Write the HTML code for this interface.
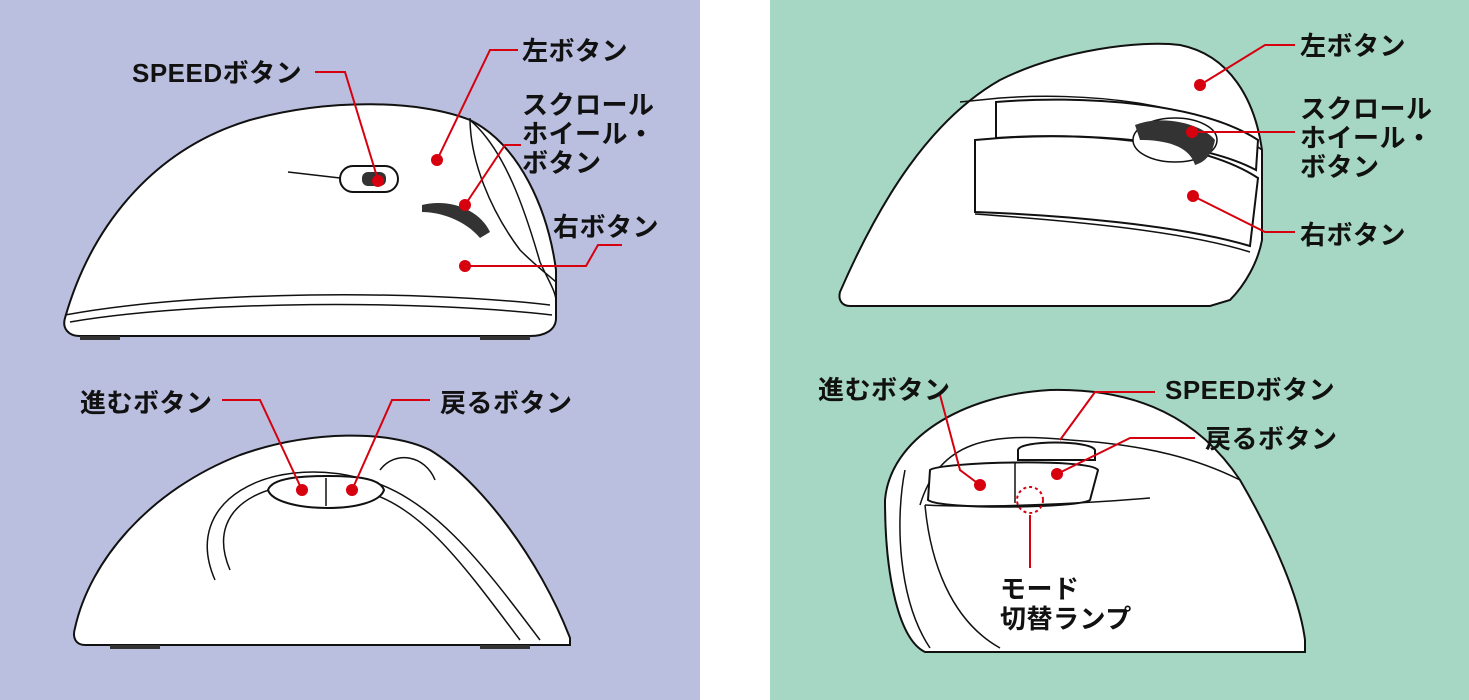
<!DOCTYPE html>
<html><head><meta charset="utf-8"><style>
html,body{margin:0;padding:0;background:#fff}
svg{display:block}
text{font-family:"Liberation Sans","Noto Sans CJK JP",sans-serif;font-size:26px;letter-spacing:0.5px;font-weight:bold;fill:#111}
.m{fill:#fff;stroke:#111;stroke-width:2}
.t{fill:none;stroke:#111;stroke-width:1.5}
.r{fill:none;stroke:#d7000f;stroke-width:2}
.d{fill:#d7000f}
</style></head><body>
<svg width="1469" height="700" viewBox="0 0 1469 700" xmlns="http://www.w3.org/2000/svg">
<rect x="0" y="0" width="700" height="700" fill="#babfdf"/>
<rect x="770" y="0" width="699" height="700" fill="#a6d7c4"/>

<!-- top-left mouse -->
<path class="m" d="M65,318 C90,230 150,150 250,120 C330,98 420,100 470,120 C520,145 548,210 556,270 L556,318 C556,330 545,336 530,336 L80,336 C68,336 62,328 65,318 Z"/>
<path class="t" d="M65,315 C200,290 420,290 550,305"/>
<path class="t" d="M70,322 C200,300 420,300 552,315"/>
<path class="t" d="M470,120 C505,150 525,210 540,262 C548,280 555,290 556,300"/>
<path class="t" d="M288,172 L340,178"/>
<rect class="m" x="340" y="166" width="58" height="26" rx="13"/>
<rect x="362" y="172" width="24" height="14" rx="6" fill="#333"/>
<path d="M422,205 C450,198 480,210 490,232 L480,238 C465,220 440,212 422,212 Z" fill="#333"/>
<path class="t" d="M470,118 C470,160 490,210 520,250 C535,265 548,275 556,282"/>
<rect x="80" y="336" width="40" height="4" fill="#333"/><rect x="480" y="336" width="50" height="4" fill="#333"/>

<!-- bottom-left mouse -->
<path class="m" d="M75,628 C90,560 150,490 240,455 C310,430 390,430 430,450 C480,480 540,560 570,638 L570,645 L85,645 C76,645 72,638 75,628 Z"/>
<path class="t" d="M230,570 C200,500 280,470 360,490 C420,505 460,560 520,640"/>
<path class="t" d="M215,580 C180,500 270,455 360,478 C430,495 480,560 540,640"/>
<path class="t" d="M380,470 C395,450 425,455 435,480"/>
<path class="m" d="M268,490 C272,478 300,476 328,476 C355,476 380,478 384,490 C380,502 355,508 328,508 C300,508 272,502 268,490 Z"/>
<line class="t" x1="326" y1="478" x2="326" y2="506"/>
<rect x="110" y="645" width="50" height="4" fill="#333"/><rect x="480" y="645" width="50" height="4" fill="#333"/>

<!-- top-right mouse -->
<path class="m" d="M840,292 C880,200 930,120 1000,80 C1060,50 1140,40 1180,45 C1230,55 1255,100 1262,150 L1262,240 C1258,262 1245,285 1230,300 L1210,306 L850,306 C842,306 838,300 840,292 Z"/>
<path class="t" d="M960,102 L1000,98 C1080,92 1200,100 1262,150"/>
<path class="m" d="M996,102 C1080,95 1200,102 1258,140 L1256,170 C1200,140 1080,132 996,138 Z"/>
<path class="m" d="M975,140 C1080,130 1200,140 1258,178 L1250,246 C1180,225 1060,215 975,212 Z"/>
<ellipse cx="1175" cy="140" rx="42" ry="22" fill="#fff" stroke="#111" stroke-width="1.5"/>
<path d="M1135,125 C1160,115 1200,122 1215,140 C1212,155 1205,162 1195,165 C1190,148 1170,140 1140,140 Z" fill="#333"/>
<path class="t" d="M975,214 C1060,220 1180,230 1250,252"/>

<!-- bottom-right mouse -->
<path class="m" d="M885,500 C890,440 960,395 1050,390 C1140,388 1200,420 1240,480 C1275,540 1300,600 1305,640 L1305,652 L925,652 C900,640 885,580 885,500 Z"/>
<path class="t" d="M920,505 C940,440 990,432 1070,440 C1150,445 1200,460 1240,480"/>
<path class="t" d="M905,470 C895,520 898,600 930,648"/>
<path class="t" d="M925,505 C930,560 950,620 1000,648"/>
<path class="m" d="M1018,450 C1020,440 1090,440 1095,450 L1095,460 L1018,460 Z"/>
<path class="m" d="M930,470 C940,462 1090,458 1098,470 L1090,500 C1080,508 940,510 928,500 Z"/>
<line class="t" x1="1015" y1="463" x2="1015" y2="503"/>
<path class="t" d="M925,505 C980,508 1080,504 1150,498"/>

<!-- red callouts left -->
<g class="r">
<polyline points="315,72 345,72 378,180"/>
<polyline points="518,50 490,50 437,160"/>
<polyline points="521,145 505,145 465,205"/>
<polyline points="622,245 598,245 586,266 465,266"/>
<polyline points="222,400 260,400 302,490"/>
<polyline points="430,400 392,400 352,490"/>
</g>
<circle class="d" cx="378" cy="181" r="6"/><circle class="d" cx="437" cy="160" r="6"/><circle class="d" cx="465" cy="205" r="6"/><circle class="d" cx="465" cy="266" r="6"/>
<circle class="d" cx="302" cy="490" r="6"/><circle class="d" cx="352" cy="490" r="6"/>
<text x="132" y="82">SPEEDボタン</text>
<text x="522" y="60">左ボタン</text>
<text x="522" y="114">スクロール</text>
<text x="522" y="143">ホイール・</text>
<text x="522" y="172">ボタン</text>
<text x="553" y="236">右ボタン</text>
<text x="80" y="412">進むボタン</text>
<text x="440" y="412">戻るボタン</text>

<!-- red callouts right -->
<g class="r">
<polyline points="1295,45 1265,45 1200,85"/>
<polyline points="1295,132 1192,132"/>
<polyline points="1295,232 1265,232 1193,196"/>
<polyline points="940,395 960,470 980,485"/>
<polyline points="1155,392 1095,392 1060,440"/>
<polyline points="1195,438 1130,438 1057,474"/>
<line x1="1030" y1="515" x2="1030" y2="568"/>
</g>
<circle cx="1030" cy="500" r="13" fill="none" stroke="#d7000f" stroke-width="2" stroke-dasharray="3,3"/>
<circle class="d" cx="1200" cy="85" r="6"/><circle class="d" cx="1192" cy="132" r="6"/><circle class="d" cx="1193" cy="196" r="6"/>
<circle class="d" cx="980" cy="485" r="6"/><circle class="d" cx="1057" cy="474" r="6"/>
<text x="1300" y="55">左ボタン</text>
<text x="1300" y="118">スクロール</text>
<text x="1300" y="147">ホイール・</text>
<text x="1300" y="176">ボタン</text>
<text x="1300" y="244">右ボタン</text>
<text x="818" y="399">進むボタン</text>
<text x="1165" y="399">SPEEDボタン</text>
<text x="1205" y="448">戻るボタン</text>
<text x="1000" y="598">モード</text>
<text x="1000" y="628">切替ランプ</text>
</svg>
</body></html>
